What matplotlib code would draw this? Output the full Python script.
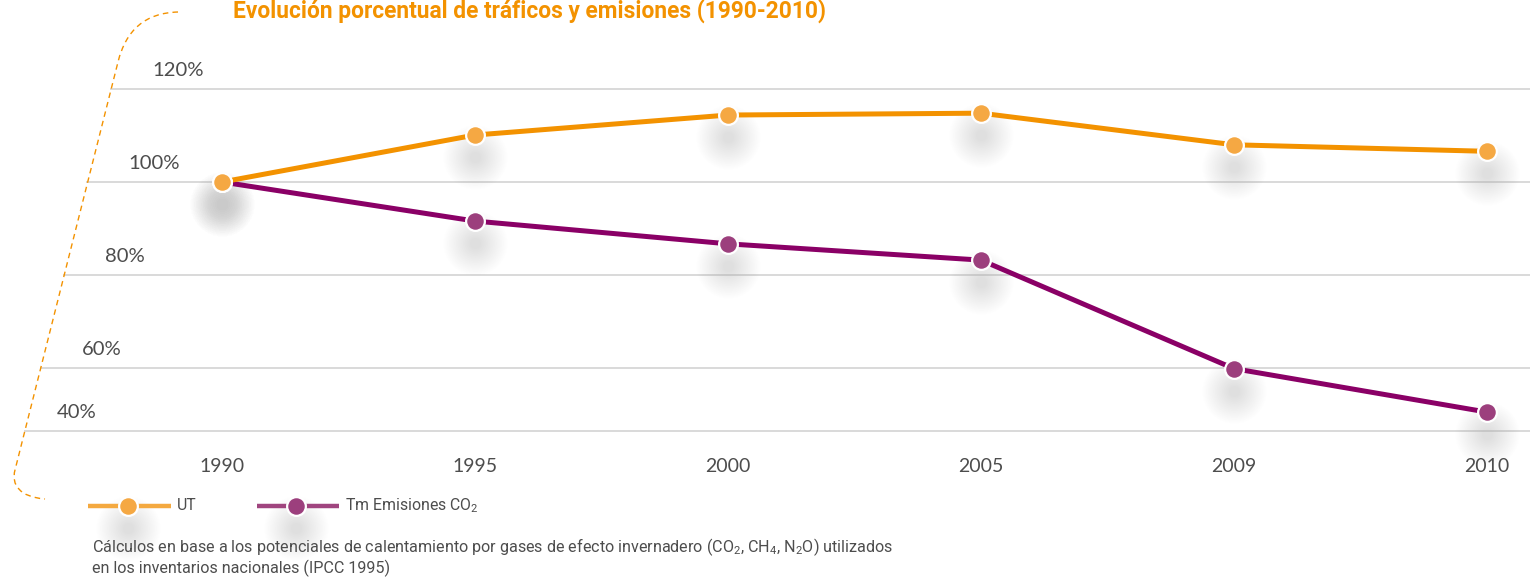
import numpy as np
import matplotlib
matplotlib.use("Agg")
import matplotlib.pyplot as plt
from matplotlib import transforms
from matplotlib.path import Path
from matplotlib.patches import PathPatch

# ---------------- data ----------------
years = ["1990", "1995", "2000", "2005", "2009", "2010"]
ut_values = [100.0, 110.1, 114.4, 114.8, 108.0, 106.6]
co2_values = [100.0, 91.6, 86.7, 83.2, 59.8, 46.0]
y_ticks = [120, 100, 80, 60, 40]
y_tick_labels = ["120%", "100%", "80%", "60%", "40%"]
title = "Evolución porcentual de tráficos y emisiones (1990-2010)"
legend_labels = ["UT", "Tm Emisiones CO$_2$"]
footnote = ("Cálculos en base a los potenciales de calentamiento por gases de efecto invernadero "
            "(CO$_2$, CH$_4$, N$_2$O) utilizados\nen los inventarios nacionales (IPCC 1995)")

# ---------------- style ----------------
plt.rcParams['font.family'] = ['Lato', 'DejaVu Sans']
plt.rcParams['mathtext.fontset'] = 'custom'
plt.rcParams['mathtext.rm'] = 'Roboto'
plt.rcParams['mathtext.it'] = 'Roboto:italic'
plt.rcParams['mathtext.bf'] = 'Roboto:bold'

ORANGE_LINE = "#F39200"
ORANGE_MARK = "#F5A843"
PURPLE_LINE = "#8A0066"
PURPLE_MARK = "#9C3F7D"
GRID = "#D0D0D0"
TXT = "#4D4D4D"

W, H = 1530, 577
fig = plt.figure(figsize=(W / 100, H / 100), dpi=100)
ax = fig.add_axes([0, 0, 1, 1])
ax.axis('off')

# compressed scale below 60%
K = 63.0 / 93.0
def fwd(v):
    v = np.asarray(v, dtype=float)
    return np.where(v >= 60, v, 60 - (60 - v) * K)
def inv(f):
    f = np.asarray(f, dtype=float)
    return np.where(f >= 60, f, 60 - (60 - f) / K)
ax.set_yscale('function', functions=(fwd, inv))

px_per_unit = 93.0 / 20.0
top_f = 120 + 89 / px_per_unit
bot_f = 120 - (H - 89) / px_per_unit
ax.set_ylim(float(inv(bot_f)), float(inv(top_f)))
x0 = 222.0
dx = 253.0
ax.set_xlim(-x0 / dx, (W - x0) / dx)

xs = np.arange(len(years))

# grid lines (start where the dashed bracket runs)
grid_start_px = [110, 86, 63, 40, 24]
label_left_px = [152, 128, 105, 82, 57]
ytr = ax.get_yaxis_transform()
for yv, gs, lx, lab in zip(y_ticks, grid_start_px, label_left_px, y_tick_labels):
    ax.hlines(yv, gs / W, 1.0, transform=ytr, color=GRID, lw=1.1, zorder=1)
    ax.annotate(lab, xy=(lx / W, yv), xycoords=ytr, xytext=(0, 9.7),
                textcoords='offset points', ha='left', va='baseline',
                fontsize=14.6, color=TXT)

# x labels
xtr = ax.get_xaxis_transform()
for x, lab in zip(xs, years):
    ax.text(x, 1 - 472 / H, lab, transform=xtr, ha='center', va='baseline',
            fontsize=14, color=TXT)

# soft shadows below markers
SH_SIZES = np.linspace(46, 8, 16)
SH_ALPHA = 0.012
shadow_tr = transforms.offset_copy(ax.transData, fig=fig, x=0, y=-22, units='dots')
def shadows(xv, yv, tr):
    for s in SH_SIZES:
        ax.plot(xv, yv, ls='none', marker='o', ms=s, mew=0, color='#808080',
                alpha=SH_ALPHA, transform=tr, zorder=2, clip_on=False)

shadows(xs, ut_values, shadow_tr)
shadows(xs, co2_values, shadow_tr)

ax.plot(xs, co2_values, color=PURPLE_LINE, lw=3.6, zorder=3, solid_capstyle='butt')
ax.plot(xs, ut_values, color=ORANGE_LINE, lw=3.6, zorder=4, solid_capstyle='butt')
ax.plot(xs, co2_values, ls='none', marker='o', ms=13.5, mfc=PURPLE_MARK, mec='white',
        mew=1.6, zorder=5, clip_on=False)
ax.plot(xs, ut_values, ls='none', marker='o', ms=13.5, mfc=ORANGE_MARK, mec='white',
        mew=1.6, zorder=6, clip_on=False)

# ---------------- legend (manual keys) ----------------
px = transforms.Affine2D().scale(1.0 / W, -1.0 / H).translate(0, 1) + fig.transFigure
leg_y = 506
keys = [(88, 171, 128, 177, "#F4A940", ORANGE_MARK),
        (257, 339, 296, 345, "#A0457F", PURPLE_MARK)]
for (xa, xb, xm, xt, lc, mc), lab in zip(keys, legend_labels):
    sh = transforms.offset_copy(px, fig=fig, x=0, y=-22, units='dots')
    for s in SH_SIZES:
        ax.plot([xm], [leg_y], ls='none', marker='o', ms=s, mew=0, color='#808080',
                alpha=SH_ALPHA, transform=sh, clip_on=False, zorder=2)
    ax.plot([xa, xb], [leg_y, leg_y], color=lc, lw=3.2, transform=px, clip_on=False,
            solid_capstyle='butt', zorder=3)
    ax.plot([xm], [leg_y], ls='none', marker='o', ms=13.5, mfc=mc, mec='white', mew=1.6,
            transform=px, clip_on=False, zorder=4)
    ax.text(xt, leg_y, lab, transform=px, ha='left', va='center', fontsize=11.4,
            family=['Roboto', 'DejaVu Sans'], color=TXT)

# footnote (baseline of the last line)
ax.text(92, 573, footnote, transform=px, ha='left', va='baseline', fontsize=11.6,
        family=['Roboto', 'DejaVu Sans'], color=TXT, linespacing=1.1)

# title at the very top
ax.text(233, 18, title, transform=px, ha='left', va='baseline', fontsize=16.4,
        fontweight='bold', family=['Roboto', 'DejaVu Sans'], color=ORANGE_LINE)

# dashed bracket on the left
verts = [(178, 12), (145, 13), (126, 30), (118, 62),
         (15, 470),
         (11, 485), (20, 497), (45, 499)]
codes = [Path.MOVETO, Path.CURVE4, Path.CURVE4, Path.CURVE4,
         Path.LINETO,
         Path.CURVE4, Path.CURVE4, Path.CURVE4]
patch = PathPatch(Path(verts, codes), fill=False, edgecolor=ORANGE_LINE, lw=1.0,
                  linestyle=(0, (4, 3)), transform=px, clip_on=False)
ax.add_patch(patch)

fig.savefig("out.png", dpi=100)
